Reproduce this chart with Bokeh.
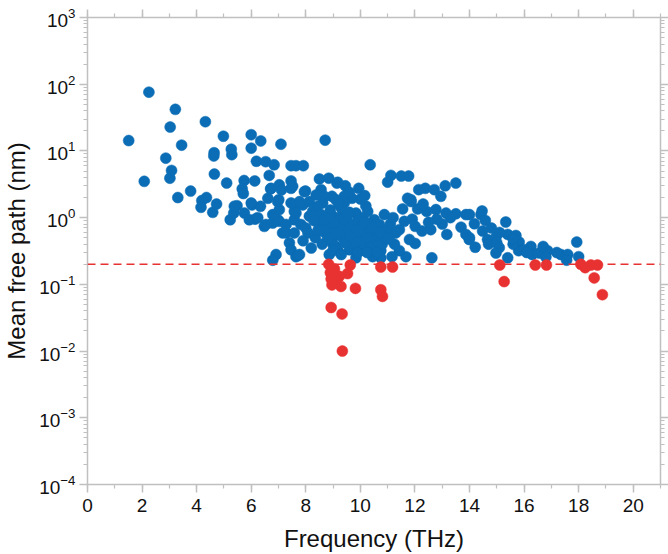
from bokeh.plotting import figure
from bokeh.models import (Range1d, LinearAxis, LogAxis, SingleIntervalTicker,
                          LogTicker, Span, ColumnDataSource)
from bokeh.embed import file_html
from bokeh.resources import INLINE

# ---- data ----
blue_x = [2.25, 1.51, 3.22, 3.03, 4.32, 3.45, 2.87, 3.08, 3.02, 2.08, 3.31, 3.78,
          4.98, 6.0, 6.35, 7.09, 6.0, 4.64, 4.63, 5.27, 5.29, 4.65, 5.10, 6.19,
          6.53, 6.84, 6.66, 7.46, 7.64, 5.74, 6.13, 5.67, 5.71, 6.71, 7.03, 7.11,
          7.46, 7.52, 4.36, 4.19, 4.16, 4.73, 4.59, 5.23, 5.48, 5.36, 5.75, 6.03,
          6.34, 6.61, 7.01, 6.14, 6.48, 6.79, 6.97, 7.15, 7.40, 7.58, 7.64, 6.91,
          6.79, 7.64, 7.46, 8.71, 10.36, 7.91, 8.5, 8.84, 9.14, 9.45, 9.94, 10.16,
          7.99, 8.96, 9.41, 9.69, 8.08, 7.71, 8.86, 9.10, 9.83, 11.12, 11.0, 11.50,
          11.77, 13.11, 13.5, 12.14, 12.38, 12.71, 12.95, 11.85, 11.55, 12.1, 12.43,
          12.77, 13.14, 13.5, 13.87, 14.18, 14.42, 11.61, 11.43, 12.01, 12.26, 12.58,
          13.17, 13.69, 13.87, 13.99, 14.21, 12.01, 12.62, 11.67, 11.43, 11.16, 8.56,
          9.17, 9.41, 9.1, 8.62, 8.25, 7.89, 7.58, 8.99, 9.35, 9.84, 10.27, 10.88,
          10.51, 9.11, 9.41, 9.72, 10.02, 10.33, 10.7, 11.0, 11.3, 8.99, 9.35, 9.84,
          10.21, 10.57, 10.94, 11.25, 9.17, 9.6, 10.02, 10.39, 10.75, 9.84, 10.75,
          10.45, 8.99, 10.51, 11.73, 11.8, 14.46, 14.58, 14.0, 14.48, 14.66, 14.7,
          14.97, 15.33, 15.4, 15.7, 15.82, 15.8, 15.09, 14.97, 15.4, 14.0, 16.25,
          16.3, 16.56, 16.86, 16.8, 17.35, 17.6, 17.56, 17.93, 18.0, 11.86, 6.73,
          7.46, 7.95, 5.38, 6.0, 5.93, 6.24, 6.54, 6.79, 6.97, 7.03, 7.03, 7.28,
          7.28, 7.58, 7.82, 7.64, 7.46, 7.77, 8.13, 8.38, 8.44, 8.68, 8.56, 8.13,
          8.5, 8.86, 8.93, 7.77,
          9.6, 9.9, 10.1, 9.2, 9.5, 10.0, 10.3, 10.6, 9.0, 8.7, 8.9, 9.3, 9.7,
          10.1, 10.4, 9.45, 10.8, 11.1, 10.2, 9.6, 10.0, 8.3, 8.0, 7.9, 8.35, 8.6,
          8.2, 11.2, 12.3, 13.3, 13.0, 12.8, 12.5, 11.9, 14.8, 15.1, 15.6, 16.0,
          16.7, 17.2,
          9.25, 9.55, 9.75, 10.05, 10.25, 10.55, 10.85, 9.05, 9.4, 9.65, 9.95,
          10.15, 10.45, 10.65, 8.8, 9.15, 9.85, 10.35, 10.7, 11.05, 8.75, 9.0,
          9.3, 9.9, 10.6, 8.45, 8.65, 9.2, 9.55, 10.25, 15.6, 15.0, 16.1]
blue_y = [76, 14.3, 42, 22.8, 27.4, 12.2, 7.8, 5.1, 3.9, 3.5, 2.0, 2.5,
          16.6, 17.5, 14.1, 12.6, 11, 9.4, 8.4, 10.6, 8.8, 4.5, 3.3, 7.0,
          6.9, 6.2, 4.3, 6.0, 6.0, 3.6, 3.55, 2.7, 2.3, 2.7, 3.1, 2.6,
          3.55, 2.95, 2.0, 1.8, 1.43, 1.6, 1.2, 0.93, 1.51, 1.17, 1.17, 1.55,
          1.48, 1.95, 1.86, 0.95, 0.74, 0.83, 0.93, 0.59, 0.42, 0.93, 1.48, 0.28,
          0.23, 0.26, 0.33, 14.5, 6.2, 6.0, 3.8, 3.9, 3.3, 3.0, 2.75, 2.14,
          2.5, 2.09, 2.09, 1.95, 0.59, 0.27, 0.28, 0.37, 0.33, 4.3, 3.4, 4.2,
          4.2, 3.0, 3.3, 2.63, 2.75, 2.63, 2.09, 1.86, 1.35, 1.35, 1.24,
          1.32, 1.17, 1.14, 1.11, 0.81, 1.11, 0.88, 0.66, 0.74, 0.63, 0.66,
          0.56, 0.72, 0.56, 0.47, 0.36, 0.41, 0.25, 0.26, 0.32, 0.26, 2.63,
          3.39, 1.66, 1.86, 1.66, 1.24, 1.55, 1.24, 1.05, 1.17, 1.17, 1.24, 1.11,
          0.93, 0.70, 0.79, 0.70, 0.66, 0.63, 0.79, 0.66, 0.59, 0.50, 0.50, 0.47,
          0.45, 0.45, 0.50, 0.40, 0.33, 0.33, 0.32, 0.33, 0.32, 0.25, 0.25,
          0.26, 0.40, 0.56, 1.95, 0.47, 1.26, 0.91, 1.11, 0.63, 0.47, 0.40,
          0.51, 0.86, 0.56, 0.54, 0.43, 0.32, 0.355, 0.295, 0.25, 0.50, 0.37,
          0.28, 0.295, 0.32, 0.257, 0.28, 0.28, 0.23, 0.43, 0.26, 1.74, 2.75,
          2.75, 2.45, 1.48, 1.66, 0.93, 1.0, 0.79, 1.11, 1.74, 1.32, 0.88, 0.79,
          0.59, 0.59, 0.79, 1.17, 1.66, 1.74, 1.74, 2.19, 1.48, 2.09, 1.11, 1.05,
          0.79, 0.79, 0.47, 0.28,
          1.2, 0.9, 1.0, 0.9, 0.6, 0.55, 0.8, 0.65, 0.65, 0.6, 1.3, 1.4, 0.42,
          0.38, 0.4, 0.42, 0.4, 0.8, 1.5, 2.4, 1.9, 0.9, 0.7, 0.45, 0.5, 0.4,
          0.35, 1.0, 1.6, 1.0, 0.8, 0.95, 0.85, 0.95, 0.7, 0.6, 0.4, 0.33,
          0.37, 0.3,
          0.75, 0.85, 0.55, 0.75, 0.5, 0.75, 0.55, 0.85, 0.95, 0.52, 0.62,
          0.85, 0.7, 0.38, 0.48, 0.6, 0.42, 0.35, 0.6, 0.48, 1.0, 0.32,
          0.28, 0.3, 0.3, 0.65, 0.9, 1.6, 1.1, 0.3, 0.48, 0.42, 0.3]

red_x = [8.84, 9.05, 9.63, 9.53, 8.93, 9.23, 8.96, 9.29, 9.82, 10.75, 11.18,
         10.75, 10.81, 8.93, 9.33, 9.34, 15.11, 15.27, 16.41, 16.82, 18.08,
         18.24, 18.45, 18.69, 18.57, 18.87, 9.1, 8.9]
red_y = [0.2, 0.17, 0.195, 0.145, 0.12, 0.132, 0.098, 0.093, 0.087, 0.182, 0.182,
         0.083, 0.066, 0.045, 0.036, 0.01, 0.195, 0.11, 0.195, 0.195, 0.2,
         0.178, 0.195, 0.195, 0.125, 0.07, 0.11, 0.15]

threshold = 0.2
x_range = (0, 21)
y_range = (1e-4, 1e3)

BLUE = "#0b6db5"
RED = "#e83232"
AXIS = "#c0c0c0"
FONT = "Liberation Sans"

p = figure(width=668, height=554, output_backend="svg", toolbar_location=None,
           x_range=Range1d(*x_range), y_range=Range1d(*y_range),
           y_axis_type="log", min_border_left=87, min_border_right=0,
           min_border_top=17, min_border_bottom=70)
p.grid.visible = False
p.outline_line_color = None
p.background_fill_color = "white"
p.border_fill_color = "white"

def style(ax, labels=True):
    ax.axis_line_color = AXIS
    ax.axis_line_width = 1.5
    ax.major_tick_line_color = AXIS
    ax.minor_tick_line_color = AXIS
    ax.major_tick_line_width = 1.5
    ax.minor_tick_line_width = 1.2
    ax.major_tick_in = 0
    ax.major_tick_out = 8
    ax.minor_tick_in = 0
    ax.minor_tick_out = 4
    ax.major_label_text_font = FONT
    ax.major_label_text_font_size = "19px"
    ax.major_label_text_color = "#111111"
    ax.axis_label_text_font = FONT
    ax.axis_label_text_font_size = "24px"
    ax.axis_label_text_font_style = "normal"
    ax.axis_label_text_color = "#111111"
    if not labels:
        ax.major_label_text_font_size = "0px"
        ax.major_label_text_alpha = 0

xb = p.xaxis[0]
xb.ticker = SingleIntervalTicker(interval=2, num_minor_ticks=2)
xb.axis_label = "Frequency (THz)"
xb.axis_label_standoff = 10
xb.major_label_standoff = 6
style(xb)

yl = p.yaxis[0]
yl.ticker = LogTicker(num_minor_ticks=10)
yl.axis_label = "Mean free path (nm)"
yl.axis_label_standoff = 6
yl.major_label_standoff = 4
style(yl)

xt = LinearAxis(ticker=SingleIntervalTicker(interval=2, num_minor_ticks=2))
style(xt, labels=False)
p.add_layout(xt, "above")

yr = LogAxis(ticker=LogTicker(num_minor_ticks=10))
style(yr, labels=False)
p.add_layout(yr, "right")

p.add_layout(Span(location=threshold, dimension="width", line_color=RED,
                  line_width=1.5, line_dash="8 5"))

bsrc = ColumnDataSource(dict(x=blue_x, y=blue_y))
rsrc = ColumnDataSource(dict(x=red_x, y=red_y))
p.scatter("x", "y", source=bsrc, size=11, fill_color=BLUE, line_color=BLUE,
          line_width=0.5)
p.scatter("x", "y", source=rsrc, size=11, fill_color=RED, line_color=RED,
          line_width=0.5)

open("out.html", "w").write(file_html(p, INLINE))
